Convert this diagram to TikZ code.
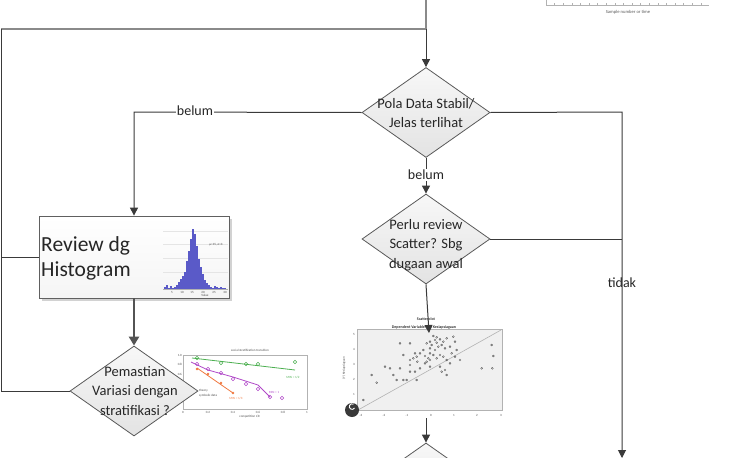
\documentclass[tikz,border=0pt]{standalone}
\usepackage{fontspec}
\setmainfont{Carlito}
\usetikzlibrary{shapes.geometric,arrows.meta,shadows}
\definecolor{ln}{HTML}{3A3A3A}
\definecolor{lngray}{HTML}{8A8A8A}
\definecolor{txt}{HTML}{262626}
\definecolor{histblue}{HTML}{5A5AC8}
\definecolor{gline}{HTML}{4CAF50}
\definecolor{pline}{HTML}{B048C8}
\definecolor{oline}{HTML}{F07840}
\begin{document}
\begin{tikzpicture}[x=1pt,y=-1pt,
  dia/.style={diamond, draw=gray!70!black, line width=0.8pt, top color=gray!6, bottom color=gray!22, minimum width=128pt, minimum height=90pt, inner sep=0pt},
  dtext/.style={align=center, font=\fontsize{14.5}{19.5}\selectfont, text=txt, inner sep=0pt},
  conn/.style={draw=ln, line width=1pt},
  arr/.style={conn, -{Triangle[width=8pt,length=8pt]}},
  lbl/.style={font=\fontsize{14}{16}\selectfont, text=txt, inner sep=1pt},
  tiny/.style={font=\fontsize{3.2}{3.6}\selectfont, text=gray!60!black, inner sep=0pt},
  boxst/.style={rectangle, draw=gray!75!black, line width=0.8pt, top color=white, bottom color=gray!8, minimum width=190pt, minimum height=82pt, inner sep=0pt, drop shadow={shadow xshift=2.5pt, shadow yshift=-2.5pt, fill=gray!70}},
]
\useasboundingbox (0,0) rectangle (750,458);
\begin{scope}
\clip (0,0) rectangle (750,458);

% ---------- top right partial chart ----------
\draw[gray!60, line width=0.6pt] (546,0) -- (546,5) -- (709,5);
\foreach \i in {1,...,18} \draw[gray!60, line width=0.4pt] (546+8.6*\i,5) -- ++(0,-2.5);
\node[font=\fontsize{4.6}{5}\selectfont, text=gray!70!black, inner sep=0pt] (srt) at (628,12) {Sample number or time};

% ---------- coordinates ----------
\coordinate (top) at (426,0);
\coordinate (jT) at (426,29);
\coordinate (cTL) at (1,29);
\coordinate (cBL) at (1,391);
\coordinate (cRL) at (1,257);
\coordinate (bl1) at (134,112);
\coordinate (tr1) at (622,112);
\coordinate (tr2) at (622,239);
\coordinate (endR) at (622,458);
\coordinate (scTop) at (429,333);
\coordinate (scBot) at (426,418);

% ---------- nodes ----------
\node[dia] (d1) at (426,112.5) {};
\node[dtext] (d1t) at (426,113) {Pola Data Stabil/\\Jelas terlihat};
\node[dia] (d2) at (426,239) {};
\node[dtext] (d2t) at (426,245) {Perlu review\\Scatter? Sbg\\dugaan awal};

% ---------- line chart (behind diamond) ----------
\draw[gray!60, line width=0.4pt] (183,355) rectangle (307,409);
\node[tiny] (lct) at (250,350.5) {social stratification transition};
\foreach \v/\yy in {1.0/355,0.8/364,0.6/374,0.4/383} {\node[tiny, anchor=east] at (182,\yy) {\v};}
\foreach \v/\xx in {0/183,0.2/208,0.4/233,0.6/258,0.8/283,1/307} {\node[tiny] at (\xx,412.5) {\v};}
\node[tiny] (lcx) at (250,417) {competition $\alpha$};
\draw[gline, line width=0.8pt] (192,358) -- (295,370);
\foreach \p in {(197,358),(221,363),(246,364),(258,364),(295,362)} \draw[gline, line width=0.5pt] \p circle (1.7);
\node[tiny, text=gline] (lg1) at (293,377) {MIN = 1/2};
\draw[pline, line width=0.8pt] (191,362) -- (208,370) -- (233,377) -- (258,385) -- (270,397);
\foreach \p in {(197,364),(208,369),(221,373),(233,379),(246,384),(258,389),(270,397),(282,398)} \draw[pline, line width=0.5pt] \p circle (1.7);
\node[tiny, text=pline] (lg2) at (274,392) {MIN = 1};
\draw[oline, line width=0.8pt] (197,368) -- (233,393);
\foreach \p in {(197,369),(208,374),(221,383),(233,393)} \fill[oline] \p circle (1.3);
\node[tiny, text=oline] (lg3) at (236,398) {MIN = 1/3};
\node[tiny, anchor=west] (lgth) at (199,391) {theory};
\node[tiny, anchor=west] (lgsd) at (199,396) {symbolic data};

\node[dia] (d3) at (134,391) {};
\node[dtext] (d3t) at (135,391) {Pemastian\\Variasi dengan\\stratifikasi ?};
\node[dia] (d4) at (426,488) {};

\node[boxst] (rev) at (134,257) {};
\node[anchor=west, align=left, font=\fontsize{21.5}{25}\selectfont, text=txt, inner sep=0pt] (revt) at (41,258) {Review dg\\Histogram};

% ---------- histogram ----------
\foreach \yy in {231,244,258,272} \draw[gray!20, line width=0.4pt] (163,\yy) -- (228,\yy);
\foreach \h [count=\i from 0] in {2,4,1,3,1,2,4,7,10,13,17,28,38,50,60,55,43,30,22,15,9,6,4,2,1,3,2,1,2,1,1}
  \fill[histblue] (164+2*\i,289) rectangle ++(1.8,-\h);
\draw[gray!60, line width=0.4pt] (163,289) -- (228,289);
\foreach \v/\xx in {5/172,10/182,15/192,20/203,25/214,30/225} {\node[tiny] at (\xx,292) {\v};}
\node[tiny] (hv) at (205,295.5) {Value};
\node[tiny] (hmu) at (216,245) {μ=15, σ=3};

% ---------- scatter plot ----------
\node[font=\fontsize{4}{4.5}\selectfont\bfseries, text=gray!40!black, inner sep=0pt] (sct1) at (426,319) {Scatterplot};
\node[font=\fontsize{4}{4.5}\selectfont\bfseries, text=gray!40!black, inner sep=0pt] (sct2) at (424,327) {Dependent Variable: (Y) Kesiapsiagaan};
\draw[gray!60, fill=gray!12, line width=0.5pt] (357,329) rectangle (502,410);
\draw[gray!60, line width=0.6pt] (358,410) -- (501,330);
\foreach \a/\b in {310/108,320/112,330/118,300/125,290/130,320/128,340/125,350/115,370/110,375/125,360/140,345/145,300/145,280/150,270/160,260/170,250/175,240/180,290/185,300/180,320/175,330/165,340/170,350/180,365/160,380/150,390/180,360/190,330/200,345/210,350/225,335/215,300/200,270/205,255/215,240/215,260/240,230/240,220/240,200/240,190/225,180/205,165/200,125/225,140/248,100/300,210/130,240/130,220/165,210/205,240/195,262/185,285/190,455/205,485/135,490/168,487/205,300/160,315/150,325/140,310/165,285/168,295/175,375/170,255/160,305/135,335/135,315/120}
  \draw[gray!50!black, line width=0.3pt] (330+\a/3,300+\b/3) circle (1.0);
\foreach \v/\yy in {5/334,4/349,3/364,2/379,1/394} {\node[tiny, anchor=east] at (355,\yy) {\v};}
\foreach \v/\xx in {-3/361,-2/384,-1/407,0/431,1/454,2/477,3/501} {\node[tiny] at (\xx,415) {\v};}
\node[tiny, rotate=90] (scy) at (344,368) {(Y) Kesiapsiagaan};
\fill[gray!45!black] (352,410) circle (7);
\draw[white, line width=0.9pt] (354.5,408) arc (30:300:2.8);

% ---------- connectors ----------
\draw[draw=lngray, line width=1.6pt] (top) -- (jT);
\draw[draw=lngray, line width=1.6pt] (jT) -- (cTL);
\draw[conn] (cTL) -- (cBL) -- (d3.west);
\draw[conn] (rev.west) -- (cRL);
\draw[arr] (jT) -- (d1.north);
\draw[arr] (d1.west) -- (bl1) -- (rev.north);
\node[lbl, fill=white] (lb1) at (195,111) {belum};
\draw[arr] (d1.east) -- (tr1) -- (endR);
\draw[arr] (d1.south) -- (d2.north);
\node[lbl, fill=white] (lb2) at (426,175) {belum};
\draw[conn] (d2.east) -- (tr2);
\node[lbl] (lb3) at (622,283) {tidak};
\draw[arr] (d2.south) -- (scTop);
\draw[draw=gray!65!black, line width=2.6pt, -{Triangle[width=10pt,length=9pt]}] (rev.south) -- (d3.north);
\draw[arr] (scBot) -- (d4.north);
\end{scope}
\end{tikzpicture}
\end{document}
